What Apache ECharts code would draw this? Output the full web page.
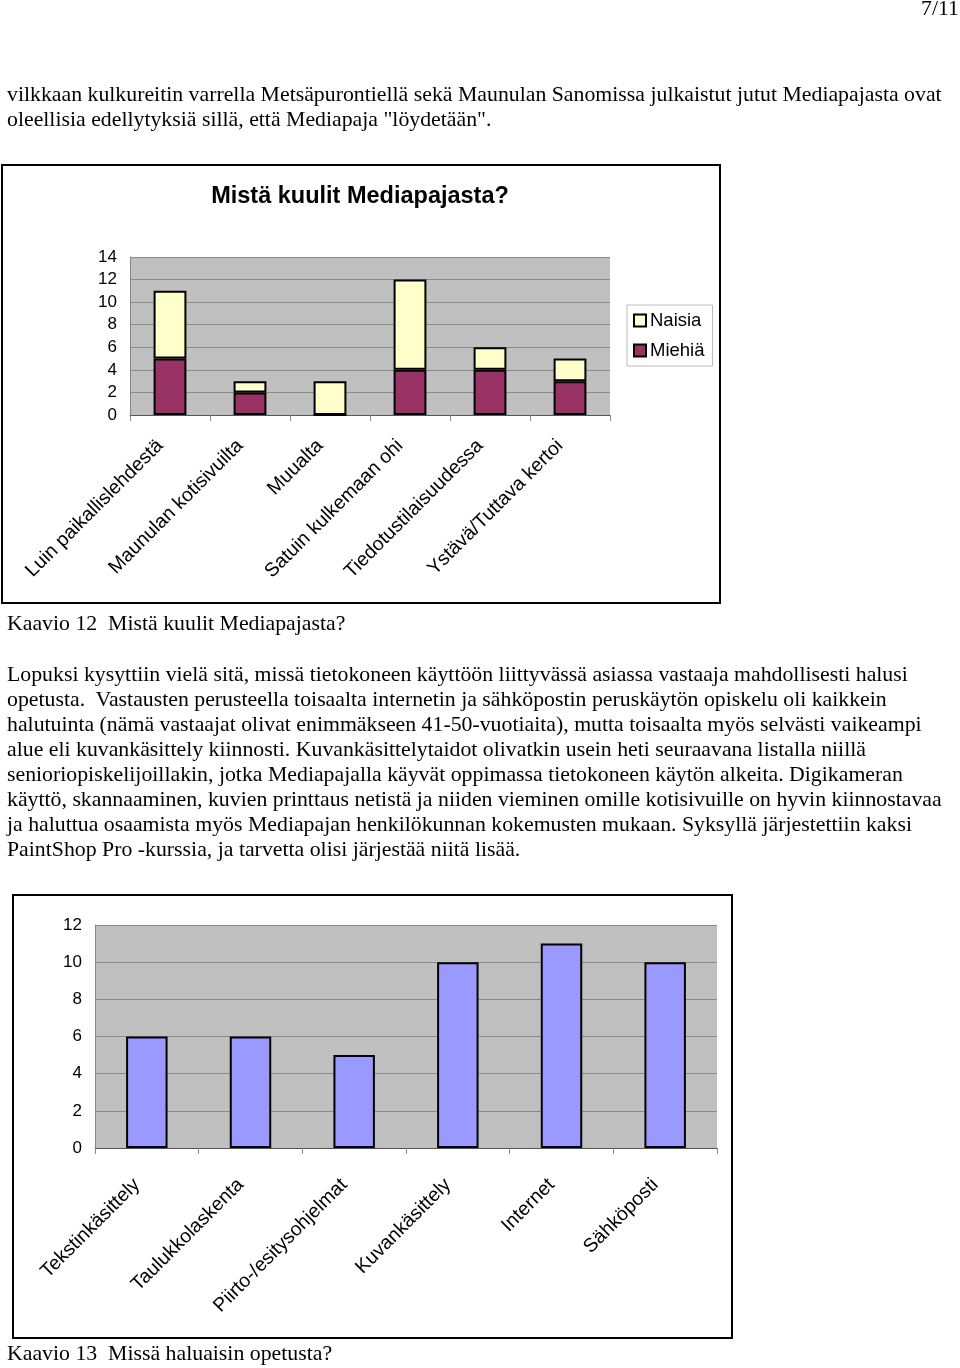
<!DOCTYPE html>
<html><head><meta charset="utf-8">
<script src="https://cdn.jsdelivr.net/npm/echarts@6/dist/echarts.min.js"></script>
<style>
html,body{margin:0;padding:0;background:#fff;}
#page{position:relative;width:960px;height:1368px;overflow:hidden;}
#chart{position:absolute;left:0;top:0;width:960px;height:1368px;}
.t{position:absolute;left:7px;font-family:"Liberation Serif","Times New Roman",serif;font-size:21.8px;line-height:25px;white-space:pre;color:#000;}
</style></head>
<body><div id="page"><div id="chart"></div>
<div class="t" style="left:auto;right:1px;top:-4px;">7/11</div>
<div class="t" style="top:82px;">vilkkaan kulkureitin varrella Metsäpurontiellä sekä Maunulan Sanomissa julkaistut jutut Mediapajasta ovat
oleellisia edellytyksiä sillä, että Mediapaja "löydetään".</div>
<div class="t" style="top:611px;">Kaavio 12  Mistä kuulit Mediapajasta?</div>
<div class="t" style="top:662px;">Lopuksi kysyttiin vielä sitä, missä tietokoneen käyttöön liittyvässä asiassa vastaaja mahdollisesti halusi
opetusta.  Vastausten perusteella toisaalta internetin ja sähköpostin peruskäytön opiskelu oli kaikkein
halutuinta (nämä vastaajat olivat enimmäkseen 41-50-vuotiaita), mutta toisaalta myös selvästi vaikeampi
alue eli kuvankäsittely kiinnosti. Kuvankäsittelytaidot olivatkin usein heti seuraavana listalla niillä
senioriopiskelijoillakin, jotka Mediapajalla käyvät oppimassa tietokoneen käytön alkeita. Digikameran
käyttö, skannaaminen, kuvien printtaus netistä ja niiden vieminen omille kotisivuille on hyvin kiinnostavaa
ja haluttua osaamista myös Mediapajan henkilökunnan kokemusten mukaan. Syksyllä järjestettiin kaksi
PaintShop Pro -kurssia, ja tarvetta olisi järjestää niitä lisää.</div>
<div class="t" style="top:1341px;">Kaavio 13  Missä haluaisin opetusta?</div>
</div>
<script>
// Chart 1: Mistä kuulit Mediapajasta?
const categories1 = ["Luin paikallislehdestä","Maunulan kotisivuilta","Muualta","Satuin kulkemaan ohi","Tiedotustilaisuudessa","Ystävä/Tuttava kertoi"];
const miehia = [5, 2, 0, 4, 4, 3];
const naisia = [6, 1, 3, 8, 2, 2];
const title1 = "Mistä kuulit Mediapajasta?";
// Chart 2: Missä haluaisin opetusta?
const categories2 = ["Tekstinkäsittely","Taulukkolaskenta","Piirto-/esitysohjelmat","Kuvankäsittely","Internet","Sähköposti"];
const values2 = [6, 6, 5, 10, 11, 10];

const F = '"Liberation Sans", Arial, sans-serif';
const chart = echarts.init(document.getElementById('chart'), null, {renderer:'canvas'});
function xAxis(cats, gi, margin){
  return {type:'category', gridIndex:gi, data:cats,
    axisLine:{show:true, lineStyle:{color:'#555', width:1}},
    axisTick:{show:true, length:6, lineStyle:{color:'#888'}},
    axisLabel:{rotate:45, margin:margin, padding:[0,14,0,0], fontFamily:F, fontSize:19.5, color:'#000', interval:0}};
}
function yAxis(gi, max){
  return {type:'value', gridIndex:gi, min:0, max:max, interval:2,
    axisLine:{show:true, lineStyle:{color:'#888'}},
    axisTick:{show:false},
    splitLine:{show:true, lineStyle:{color:'#8a8a8a', width:1}},
    axisLabel:{fontFamily:F, fontSize:17, color:'#000', margin:13}};
}
chart.setOption({
  animation:false,
  title:{text:title1, left:355, top:180, textAlign:'center',
    textStyle:{fontFamily:F, fontSize:23.5, fontWeight:'bold', color:'#000'}},
  legend:{data:['Naisia','Miehiä'], orient:'vertical', left:627, top:305,
    backgroundColor:'#fff', borderColor:'#bbb', borderWidth:1, padding:[6,8,6,6],
    itemGap:11, itemWidth:12, itemHeight:12, icon:'rect',
    textStyle:{fontFamily:F, fontSize:18.5, color:'#000', padding:[0,0,0,-1]}},
  graphic:[
    {type:'rect', shape:{x:2, y:165, width:718, height:438}, style:{fill:'none', stroke:'#000', lineWidth:2}, z:-1},
    {type:'rect', shape:{x:13, y:895, width:719, height:443}, style:{fill:'none', stroke:'#000', lineWidth:2}, z:-1}
  ],
  grid:[
    {left:130, right:350, top:257, bottom:953, show:true, backgroundColor:'#C0C0C0', borderWidth:0},
    {left:95, right:243, top:925, bottom:220, show:true, backgroundColor:'#C0C0C0', borderWidth:0}
  ],
  xAxis:[xAxis(categories1,0,18), xAxis(categories2,1,24)],
  yAxis:[yAxis(0,14), yAxis(1,12)],
  series:[
    {name:'Miehiä', type:'bar', stack:'a', xAxisIndex:0, yAxisIndex:0, data:miehia, barWidth:'41%',
      itemStyle:{color:'#993366', borderColor:'#000', borderWidth:2}},
    {name:'Naisia', type:'bar', stack:'a', xAxisIndex:0, yAxisIndex:0, data:naisia, barWidth:'41%',
      itemStyle:{color:'#FFFFCC', borderColor:'#000', borderWidth:2}},
    {name:'Opetus', type:'bar', xAxisIndex:1, yAxisIndex:1, data:values2, barWidth:'40%',
      itemStyle:{color:'#9999FF', borderColor:'#000', borderWidth:2}}
  ]
});
</script></body></html>
